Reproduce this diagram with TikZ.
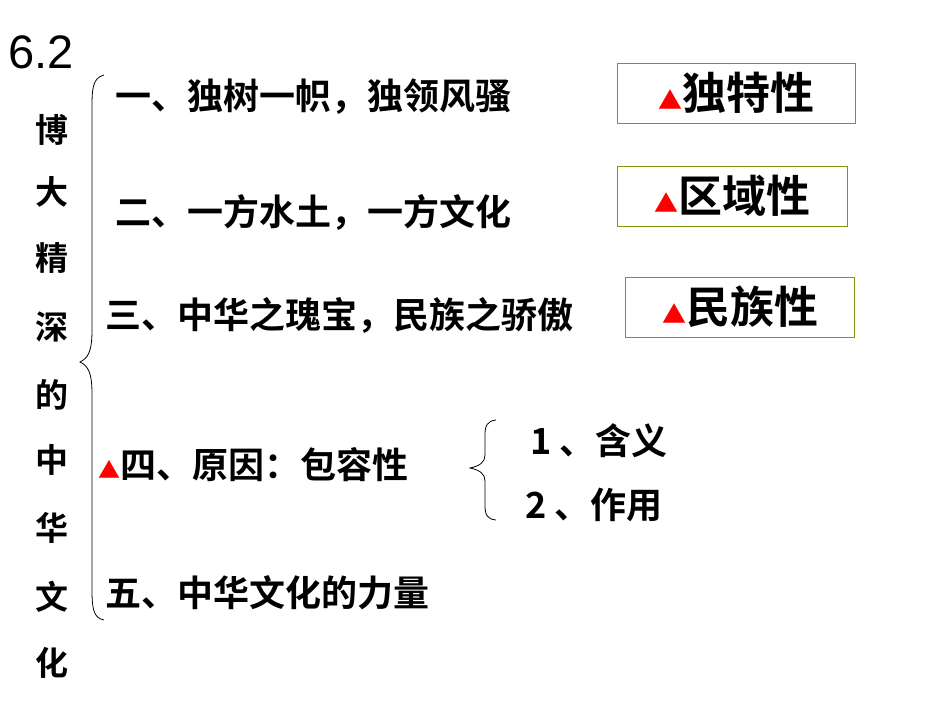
\documentclass[tikz,border=0pt]{standalone}
\usepackage{fontspec}
\setmainfont{Liberation Sans}
\newfontfamily\cjk{Noto Sans CJK SC Bold}
\begin{document}
\begin{tikzpicture}[x=1pt,y=-1pt,
 item/.style={anchor=west,inner sep=0,font=\cjk\fontsize{36}{40}\selectfont},
 vch/.style={inner sep=0,font=\cjk\fontsize{33}{36}\selectfont},
 tagbox/.style={draw=olive!70!green,line width=0.8pt,minimum width=#1,minimum height=60,font=\cjk\fontsize{44}{48}\selectfont},
 tri/.style={text=red,font=\fontsize{20}{22}\selectfont}]
\useasboundingbox (0,0) rectangle (950,713);
\node[anchor=west,inner sep=0,font=\fontsize{47}{50}\selectfont] (t) at (8,52) {6.2};
\foreach \c/\y [count=\i] in {博/130,大/192,精/258,深/327,的/395,中/460,华/528,文/597,化/663}
  \node[vch] (v\i) at (52,\y) {\c};
\draw[line width=0.8pt] (104,75) .. controls (92,78) and (92,90) .. (92,110) -- (92,330) .. controls (92,352) and (88,358) .. (80,362)
  .. controls (88,366) and (92,372) .. (92,394) -- (92,590) .. controls (92,610) and (94,618) .. (104,620);
\node[item] (a) at (115,97) {一、独树一帜，独领风骚};
\node[item] (b) at (115,212) {二、一方水土，一方文化};
\node[item] (c) at (105,315) {三、中华之瑰宝，民族之骄傲};
\node[item] (d) at (98,465) {{\color{red}\fontsize{22}{24}\selectfont▲}四、原因：包容性};
\node[item] (e) at (105,593) {五、中华文化的力量};
\node[tagbox=238] (x) at (736,93) {{\color{red}\fontsize{24}{26}\selectfont▲}独特性};
\node[tagbox=230] (y) at (732,196) {{\color{red}\fontsize{24}{26}\selectfont▲}区域性};
\node[tagbox=229] (z) at (740,307) {{\color{red}\fontsize{24}{26}\selectfont▲}民族性};
\draw[line width=0.8pt] (496,420) .. controls (487,421) and (485,426) .. (485,435) -- (485,455) .. controls (485,462) and (480,466) .. (470,468)
  .. controls (480,470) and (485,474) .. (485,481) -- (485,505) .. controls (485,515) and (487,519) .. (496,520);
\node[item] (f) at (530,441) {1 、含义};
\node[item] (g) at (525,505) {2 、作用};
\end{tikzpicture}
\end{document}
